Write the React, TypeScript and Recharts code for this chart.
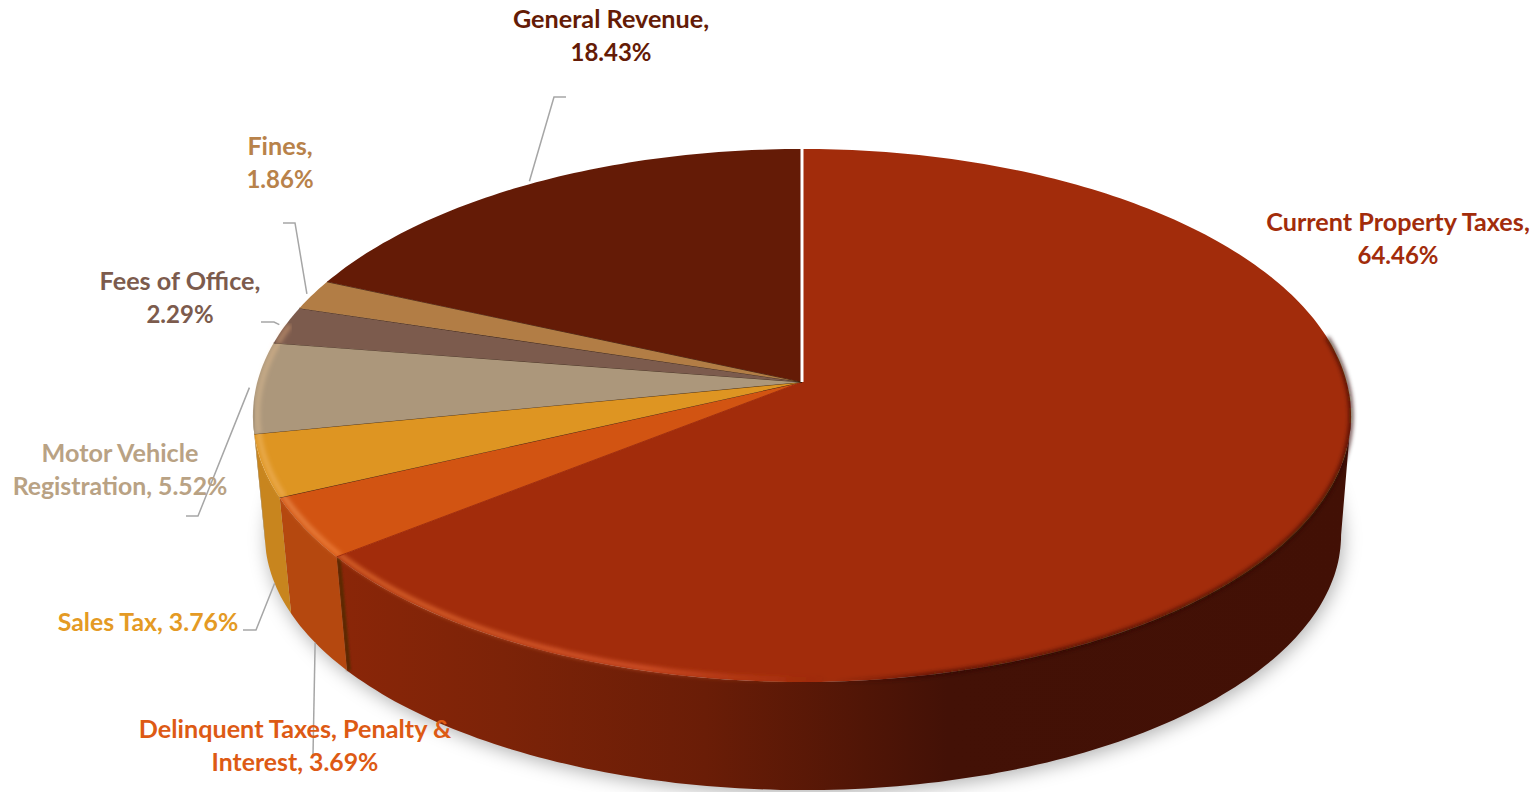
import { PieChart, Pie } from 'recharts';

const names = [
    'Current Property Taxes',
    'Delinquent Taxes, Penalty & Interest',
    'Sales Tax',
    'Motor Vehicle Registration',
    'Fees of Office',
    'Fines',
    'General Revenue',
];
const shares = [64.46, 3.69, 3.76, 5.52, 2.29, 1.86, 18.43];

const topColors = ['#A22C0B', '#D25412', '#DE9522', '#AC977B', '#7C5B4D', '#B27D45', '#641B06'];
const wallColors = ['url(#wallCurrent)', '#B5480F', '#C8851E', '#A8936F', '#6E4F42', '#9C6C3A', '#561605'];
const labelColors = ['#A22C0B', '#DD5A14', '#E49A24', '#B9A284', '#7C5B4D', '#B8824A', '#641B06'];

const labelRows = [
    ['Current Property Taxes,', '64.46%'],
    ['Delinquent Taxes, Penalty &', 'Interest, 3.69%'],
    ['Sales Tax, 3.76%'],
    ['Motor Vehicle', 'Registration, 5.52%'],
    ['Fees of Office,', '2.29%'],
    ['Fines,', '1.86%'],
    ['General Revenue,', '18.43%'],
];
const labelCenters = [[1398, 231], [295, 738], [148, 631], [120, 462], [180, 290], [280, 155], [611, 28]];

// leader line elbows, null = no leader
const leaderBends: (number[][] | null)[] = [
    null,
    [[313, 755]],
    [[256, 630], [243, 630]],
    [[198, 516], [186, 516]],
    [[274, 322], [261, 322]],
    [[295, 223], [283, 223]],
    [[554, 97], [566, 97]],
];
const leaderOnBottom = [false, true, true, false, false, false, false];

const rows = names.map((name, i) => ({ name, value: shares[i], fill: topColors[i] }));

// perspective of the tilted disc
const CX = 802;
const CY = 382;
const P = 0.1257;
const A = 544.7;
const B = 262.3;
const WALL_FROM = 97.2;
const WALL_TO = 262.8;
const RIM_FROM = 80;
const RIM_TO = 283;
const RIM_SPLIT = 178; // dark edge right of this, highlight left of it

// deg runs clockwise from 12 o'clock
const topPoint = (deg: number, r = 1) => {
    const t = (deg * Math.PI) / 180;
    const u = Math.sin(t) * r;
    const v = -Math.cos(t) * r;
    const d = 1 - P * v;
    return [CX + (A * u) / d, CY + (B * v) / d];
};
const bottomPoint = (deg: number, r = 1) => {
    const [x, y] = topPoint(deg, r);
    return [803 + (x - CX) * 0.98, 503 + (y - CY) * 0.957];
};

const arc = (fn: (d: number) => number[], from: number, to: number) => {
    const n = Math.max(1, Math.ceil(Math.abs(to - from)));
    const pts = [];
    for (let i = 0; i <= n; i++) pts.push(fn(from + ((to - from) * i) / n));
    return pts;
};
const toPath = (pts: number[][]) => pts.map((p, i) => `${i ? 'L' : 'M'}${p[0].toFixed(1)} ${p[1].toFixed(1)}`).join(' ');

const clock = (props: any) => {
    const a = 90 - props.startAngle;
    const b = 90 - props.endAngle;
    return [Math.min(a, b), Math.max(a, b)];
};

const WallSlice = (props: any) => {
    const i = names.indexOf(props.name);
    const [a, b] = clock(props);
    const from = Math.max(a, WALL_FROM);
    const to = Math.min(b, WALL_TO);
    const shadow = i === 0 ? (
        <path
            d={toPath(arc((d) => bottomPoint(d), 0, 360)) + ' Z'}
            transform="translate(2 4)"
            fill="#000"
            fillOpacity={0.3}
            filter="url(#softShadow)"
        />
    ) : null;
    if (from >= to) return <g>{shadow}</g>;
    const front = arc((d) => topPoint(d), from, to);
    const back = arc((d) => bottomPoint(d), to, from);
    const edgeTop = topPoint(to);
    const edgeBottom = bottomPoint(to);
    return (
        <g>
            {shadow}
            <path d={toPath([...front, ...back]) + ' Z'} fill={wallColors[i]} />
            {i === 0 && (
                <line
                    x1={edgeTop[0] + 2}
                    y1={edgeTop[1]}
                    x2={edgeBottom[0] + 2}
                    y2={edgeBottom[1]}
                    stroke="#5A2A05"
                    strokeWidth={4}
                    filter="url(#softEdge)"
                />
            )}
        </g>
    );
};

const TopSlice = (props: any) => {
    const i = names.indexOf(props.name);
    const [a, b] = clock(props);
    const rimFrom = Math.max(a, RIM_FROM);
    const rimTo = Math.min(b, RIM_TO);
    const pts = arc((d) => topPoint(d), a, b);
    const first = pts[0];
    const last = pts[pts.length - 1];
    const rimStroke = { fill: 'none', stroke: 'url(#rimLight)', filter: 'url(#softRim)' };
    return (
        <g>
            <path d={`M${CX} ${CY} ${toPath(pts).replace('M', 'L')} Z`} fill={topColors[i]} />
            {rimFrom < rimTo && i === 0 && (
                <path d={toPath(arc((d) => topPoint(d, 1), rimFrom, RIM_SPLIT))} strokeWidth={4} {...rimStroke} />
            )}
            {rimFrom < rimTo && (
                <path
                    d={toPath(arc((d) => topPoint(d, 0.992), Math.max(rimFrom, RIM_SPLIT), rimTo))}
                    strokeWidth={5}
                    {...rimStroke}
                />
            )}
            {i === 6 ? (
                <line x1={CX} y1={CY} x2={last[0]} y2={last[1]} stroke="#fff" strokeWidth={3} />
            ) : i > 0 ? (
                <line x1={CX} y1={CY} x2={last[0]} y2={last[1]} stroke="#2E1606" strokeOpacity={0.75} strokeWidth={1} />
            ) : null}
            {i === 1 && (
                <line x1={CX} y1={CY} x2={first[0]} y2={first[1]} stroke="#A22C0B" strokeWidth={1} />
            )}
        </g>
    );
};

const rowSize = (row: string) => (/^\d/.test(row) ? 24 : /\d/.test(row) ? 24.8 : 25.2);

const SliceLabel = (props: any) => {
    const i = props.index;
    const [x, y] = labelCenters[i];
    const bends = leaderBends[i];
    const deg = 90 - props.midAngle;
    const start = leaderOnBottom[i] ? bottomPoint(deg, 1) : topPoint(deg, 1.012);
    return (
        <g>
            {bends && (
                <polyline
                    points={[start, ...bends].map((p) => p.join(',')).join(' ')}
                    fill="none"
                    stroke="#A6A6A6"
                    strokeWidth={1.5}
                />
            )}
            <text x={x} y={y} textAnchor="middle" fill={labelColors[i]} fontFamily="Lato, sans-serif" fontWeight={700}>
                {labelRows[i].map((row, k) => (
                    <tspan key={row} x={x} dy={k ? 33 : 0} fontSize={rowSize(row)}>
                        {row}
                    </tspan>
                ))}
            </text>
        </g>
    );
};

export default function App() {
    return (
        <div style={{ position: 'absolute', left: 0, top: 0, width: 1536, height: 792, overflow: 'hidden', background: '#fff' }}>
            <PieChart width={1536} height={792} margin={{ top: 0, right: 0, bottom: 0, left: 0 }}>
                <defs>
                    <linearGradient id="wallCurrent" gradientUnits="userSpaceOnUse" x1="342" y1="0" x2="1350" y2="0">
                        <stop offset="0" stopColor="#8A2608" />
                        <stop offset="0.16" stopColor="#7C2308" />
                        <stop offset="0.36" stopColor="#6A1D07" />
                        <stop offset="0.52" stopColor="#501506" />
                        <stop offset="0.6" stopColor="#431106" />
                        <stop offset="1" stopColor="#421005" />
                    </linearGradient>
                    <linearGradient id="rimLight" gradientUnits="userSpaceOnUse" x1="250" y1="0" x2="1350" y2="0">
                        <stop offset="0" stopColor="#FFE0B0" stopOpacity={0.3} />
                        <stop offset="0.09" stopColor="#FF8A40" stopOpacity={0.55} />
                        <stop offset="0.36" stopColor="#F0683A" stopOpacity={0.6} />
                        <stop offset="0.48" stopColor="#E0552A" stopOpacity={0.15} />
                        <stop offset="0.53" stopColor="#300A03" stopOpacity={0} />
                        <stop offset="0.62" stopColor="#300A03" stopOpacity={0.7} />
                        <stop offset="1" stopColor="#300A03" stopOpacity={0.8} />
                    </linearGradient>
                    <filter id="softShadow" x="-10%" y="-10%" width="120%" height="120%">
                        <feGaussianBlur stdDeviation="9" />
                    </filter>
                    <filter id="softRim" x="-10%" y="-10%" width="120%" height="120%">
                        <feGaussianBlur stdDeviation="2" />
                    </filter>
                    <filter id="softEdge" filterUnits="userSpaceOnUse" x="300" y="520" width="100" height="180">
                        <feGaussianBlur stdDeviation="1" />
                    </filter>
                </defs>
                <Pie
                    data={rows}
                    dataKey="value"
                    nameKey="name"
                    cx={CX}
                    cy={CY}
                    outerRadius={240}
                    startAngle={90}
                    endAngle={-270}
                    stroke="none"
                    shape={WallSlice}
                    isAnimationActive={false}
                />
                <Pie
                    data={rows}
                    dataKey="value"
                    nameKey="name"
                    cx={CX}
                    cy={CY}
                    outerRadius={240}
                    startAngle={90}
                    endAngle={-270}
                    stroke="none"
                    shape={TopSlice}
                    label={SliceLabel}
                    labelLine={false}
                    isAnimationActive={false}
                />
            </PieChart>
        </div>
    );
}
